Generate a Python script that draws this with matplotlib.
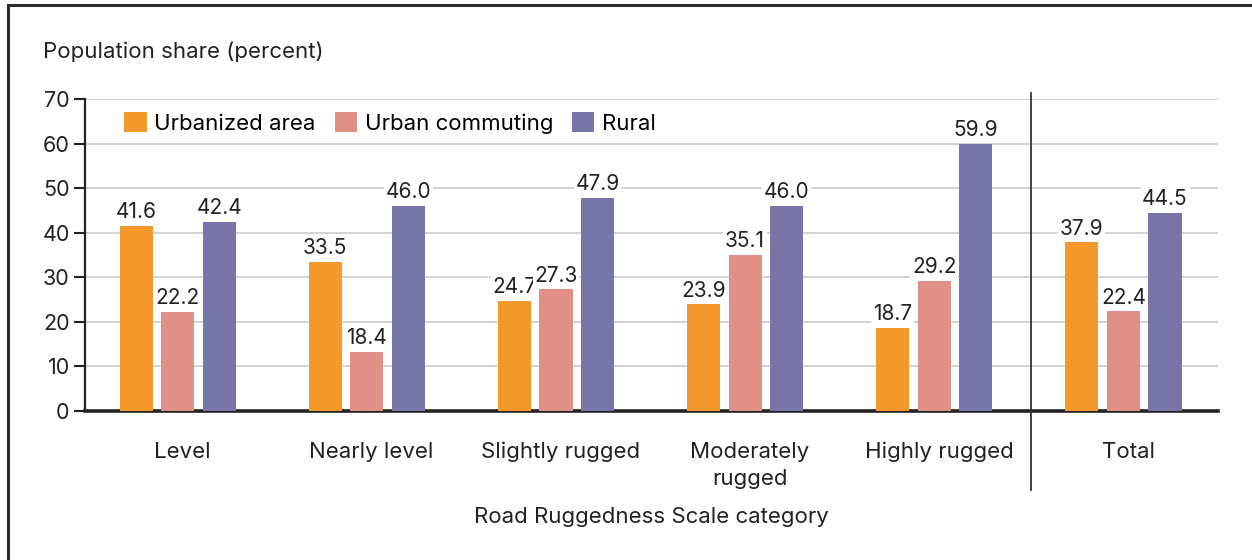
import matplotlib

matplotlib.use("Agg")
import matplotlib.pyplot as plt
from matplotlib.patches import Rectangle
import numpy as np

plt.rcParams["font.family"] = ["Inter", "DejaVu Sans"]

categories = ["Level", "Nearly level", "Slightly rugged", "Moderately\nrugged", "Highly rugged", "Total"]
urbanized = [41.6, 33.5, 24.7, 23.9, 18.7, 37.9]
commuting = [22.2, 13.3, 27.3, 35.1, 29.2, 22.4]
rural = [42.4, 46.0, 47.9, 46.0, 59.9, 44.5]
# printed labels (the "Nearly level" commuting bar is drawn lower than its label)
urbanized_labels = ["41.6", "33.5", "24.7", "23.9", "18.7", "37.9"]
commuting_labels = ["22.2", "18.4", "27.3", "35.1", "29.2", "22.4"]
rural_labels = ["42.4", "46.0", "47.9", "46.0", "59.9", "44.5"]
series_names = ["Urbanized area", "Urban commuting", "Rural"]
colors = ["#F6992D", "#E09087", "#7876A8"]
yticks = [0, 10, 20, 30, 40, 50, 60, 70]

fig = plt.figure(figsize=(12.52, 5.6), dpi=100)
fig.patches.append(
    Rectangle((8 / 1252, -0.1), 1.2, (555 / 560) + 0.1, transform=fig.transFigure,
              fill=False, edgecolor="#2b2b2b", linewidth=2.2)
)
ax = fig.add_axes([85 / 1252, 149 / 560, 1133 / 1252, 312 / 560])

x = np.arange(len(categories))
width = 0.175
offset = 0.22
txt = "#222222"
for i, (vals, labs) in enumerate(
    [(urbanized, urbanized_labels), (commuting, commuting_labels), (rural, rural_labels)]
):
    pos = x + (i - 1) * offset
    ax.bar(pos, vals, width, color=colors[i], label=series_names[i], zorder=3)
    for p, v, lab in zip(pos, vals, labs):
        ax.text(p, v + 0.8, lab, ha="center", va="bottom", fontsize=15, color=txt, zorder=4,
                bbox=dict(boxstyle="square,pad=0.08", facecolor="white", edgecolor="none"))

ax.set_xlim(-0.49, 5.5)
ax.set_ylim(0, 70)
ax.set_yticks(yticks)
ax.yaxis.grid(True, color="#d0d0d0", linewidth=1.3, zorder=0)
ax.set_axisbelow(True)
ax.tick_params(axis="y", length=8, width=1.5, color="#222222", labelsize=15.5, labelcolor=txt, pad=3)
ax.set_xticks(x + 0.025)
ax.set_xticklabels(categories, fontsize=16, color=txt, linespacing=1.45, va="top")
ax.tick_params(axis="x", length=0, pad=22)

for s in ["top", "right"]:
    ax.spines[s].set_visible(False)
ax.spines["left"].set_linewidth(1.6)
ax.spines["left"].set_color("#222222")
ax.spines["bottom"].set_linewidth(2.6)
ax.spines["bottom"].set_color("#222222")

ax.axvline(4.51, ymin=(411 - 490) / 312, ymax=(411 - 93) / 312, color="#333333",
           linewidth=1.3, clip_on=False, zorder=5)

ax.legend(loc="upper left", bbox_to_anchor=(0.023, 1.0), ncol=3, frameon=False, fontsize=16,
          handlelength=1.0, handleheight=1.0, handletextpad=0.35, columnspacing=0.85,
          borderaxespad=0.2)

fig.text(43 / 1252, 1 - 52 / 560, "Population share (percent)", fontsize=16, color=txt,
         ha="left", va="center")
fig.text(651 / 1252, 1 - 517 / 560, "Road Ruggedness Scale category", fontsize=16, color=txt,
         ha="center", va="center")

fig.savefig("out.png", dpi=100)
